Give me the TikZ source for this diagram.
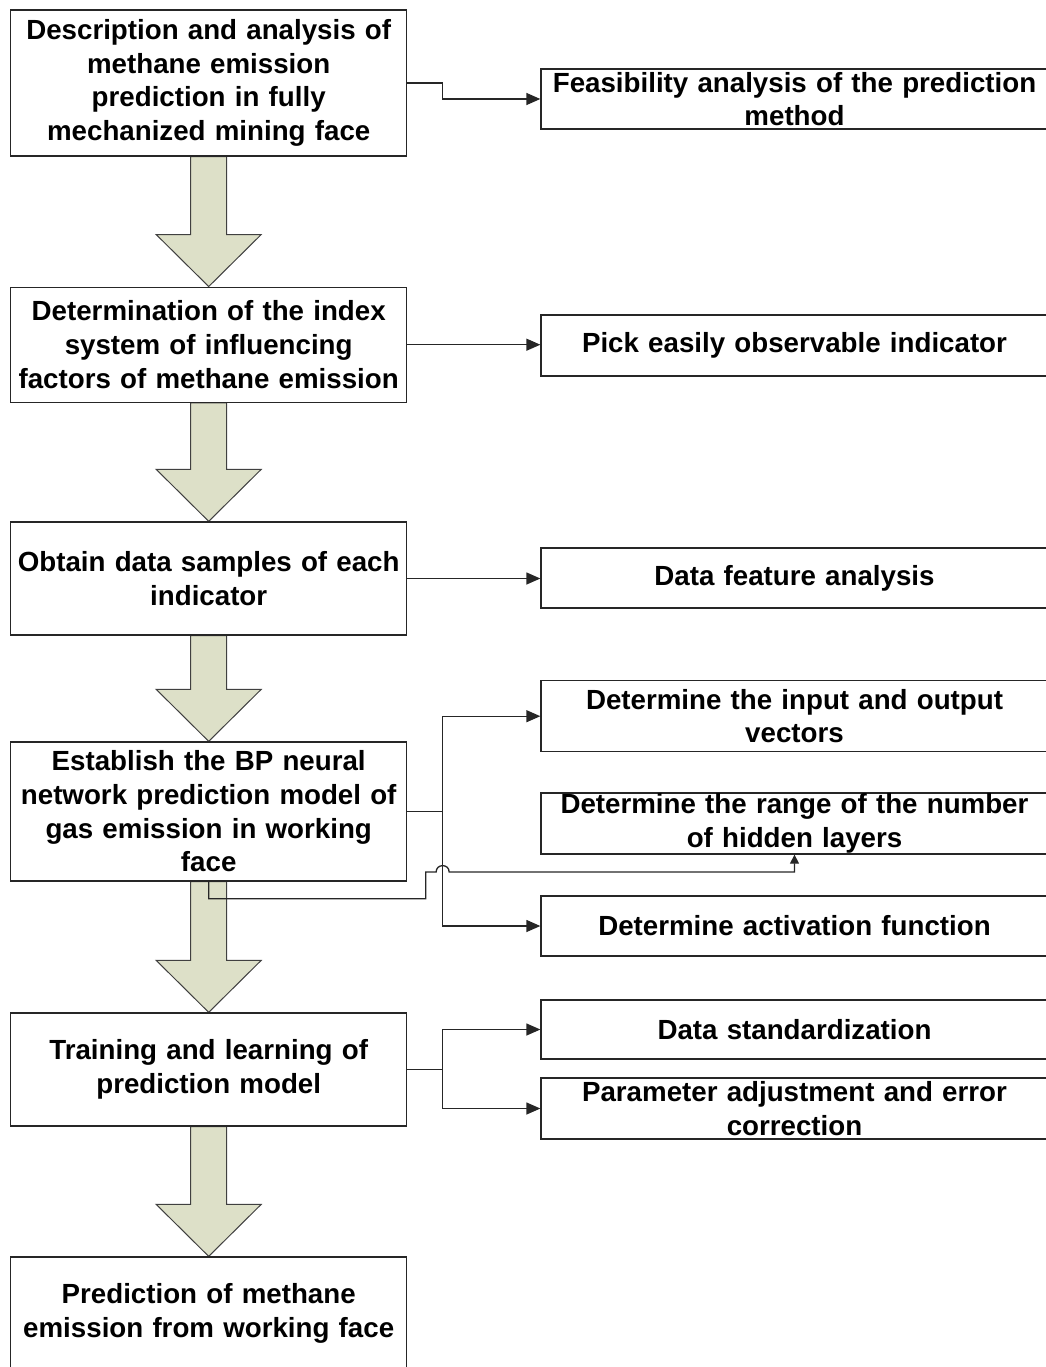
\documentclass[tikz,border=0pt]{standalone}
\usepackage{fontspec}
\setmainfont{Liberation Sans}
\usetikzlibrary{arrows.meta,calc,backgrounds}
\definecolor{shaftfill}{RGB}{221,224,200}

\begin{document}
\begin{tikzpicture}[x=1pt,y=-1pt,
    >={Triangle[length=14pt,width=12pt]},
    stage/.style={draw=black!85, line width=1.3pt, fill=white, text width=396pt,
        inner sep=0pt, align=center, font=\bfseries\fontsize{27.7}{33.7}\selectfont},
    task/.style={stage, text width=507pt},
    link/.style={line width=1.3pt, draw=black!85},
    bigarrow/.style={fill=shaftfill, draw=black!75, line width=1pt}]
    \useasboundingbox (0,0) rectangle (1045,1367);

    % the main steps (left column)
    \node[stage, minimum height=146pt] (l1) at (208.7,83) {Description and analysis of\\ methane emission\\ prediction in fully\\ mechanized mining face};
    \node[stage, minimum height=115pt] (l2) at (208.7,344.7) {Determination of the index\\ system of influencing\\ factors of methane emission};
    \node[stage, minimum height=113pt] (l3) at (208.7,578.5) {Obtain data samples of each\\ indicator};
    \node[stage, minimum height=139pt] (l4) at (208.7,811.5) {Establish the BP neural\\ network prediction model of\\ gas emission in working\\ face};
    \node[stage, minimum height=113pt] (l5) at (208.7,1069.5) {Training and learning of\\ prediction model};
    \node[stage, minimum height=113pt] (l6) at (208.7,1313.5) {Prediction of methane\\ emission from working face};

    % the sub tasks (right column)
    \node[task, minimum height=60pt] (r1) at (794.5,99) {Feasibility analysis of the prediction\\ method};
    \node[task, minimum height=61pt] (r2) at (794.5,345.5) {Pick easily observable indicator};
    \node[task, minimum height=60pt] (r3) at (794.5,578) {Data feature analysis};
    \node[task, minimum height=71pt] (r4) at (794.5,716.2) {Determine the input and output\\ vectors};
    \node[task, minimum height=61pt] (r5) at (794.5,823.5) {Determine the range of the number\\ of hidden layers};
    \node[task, minimum height=60pt] (r6) at (794.5,926) {Determine activation function};
    \node[task, minimum height=59pt] (r7) at (794.5,1029.5) {Data standardization};
    \node[task, minimum height=61pt] (r8) at (794.5,1108.5) {Parameter adjustment and error\\ correction};

    % the big arrows between the steps
    \begin{scope}[on background layer]
    \foreach \a/\b in {l1/l2,l2/l3,l3/l4,l4/l5,l5/l6}
        \filldraw[bigarrow] ($(\a.south)+(-18,0)$) -- ($(\b.north)+(-18,-52)$) -- ($(\b.north)+(-52.5,-52)$)
            -- (\b.north) -- ($(\b.north)+(52.5,-52)$) -- ($(\b.north)+(18,-52)$) -- ($(\a.south)+(18,0)$) -- cycle;
    \end{scope}

    % junction points of the branches
    \coordinate (j4) at ($(l4.east)+(35.3,0)$);
    \coordinate (j5) at ($(l5.east)+(35.3,0)$);
    \coordinate (hop) at ($(j4)+(0,60.5)$);

    % the connectors
    \draw[link,->] (l1.east) -- ++(35.3,0) |- (r1.west);
    \draw[link,->] (l2.east) -- (l2.east -| r2.west);
    \draw[link,->] (l3.east) -- (l3.east -| r3.west);
    \draw[link] (l4.east) -- (j4);
    \draw[link,->] (j4) |- (r4.west);
    \draw[link,->] (j4) |- (r6.west);
    \draw[link,-{Triangle[length=9pt,width=9pt]}] (l4.south) -- ++(0,17) -| ($(hop)+(-17,0)$) -- ($(hop)+(-6.5,0)$)
        .. controls ($(hop)+(-6.5,-8.5)$) and ($(hop)+(6.5,-8.5)$) .. ($(hop)+(6.5,0)$) -| (r5.south);
    \draw[link] (l5.east) -- (j5);
    \draw[link,->] (j5) |- (r7.west);
    \draw[link,->] (j5) |- (r8.west);
\end{tikzpicture}
\end{document}
